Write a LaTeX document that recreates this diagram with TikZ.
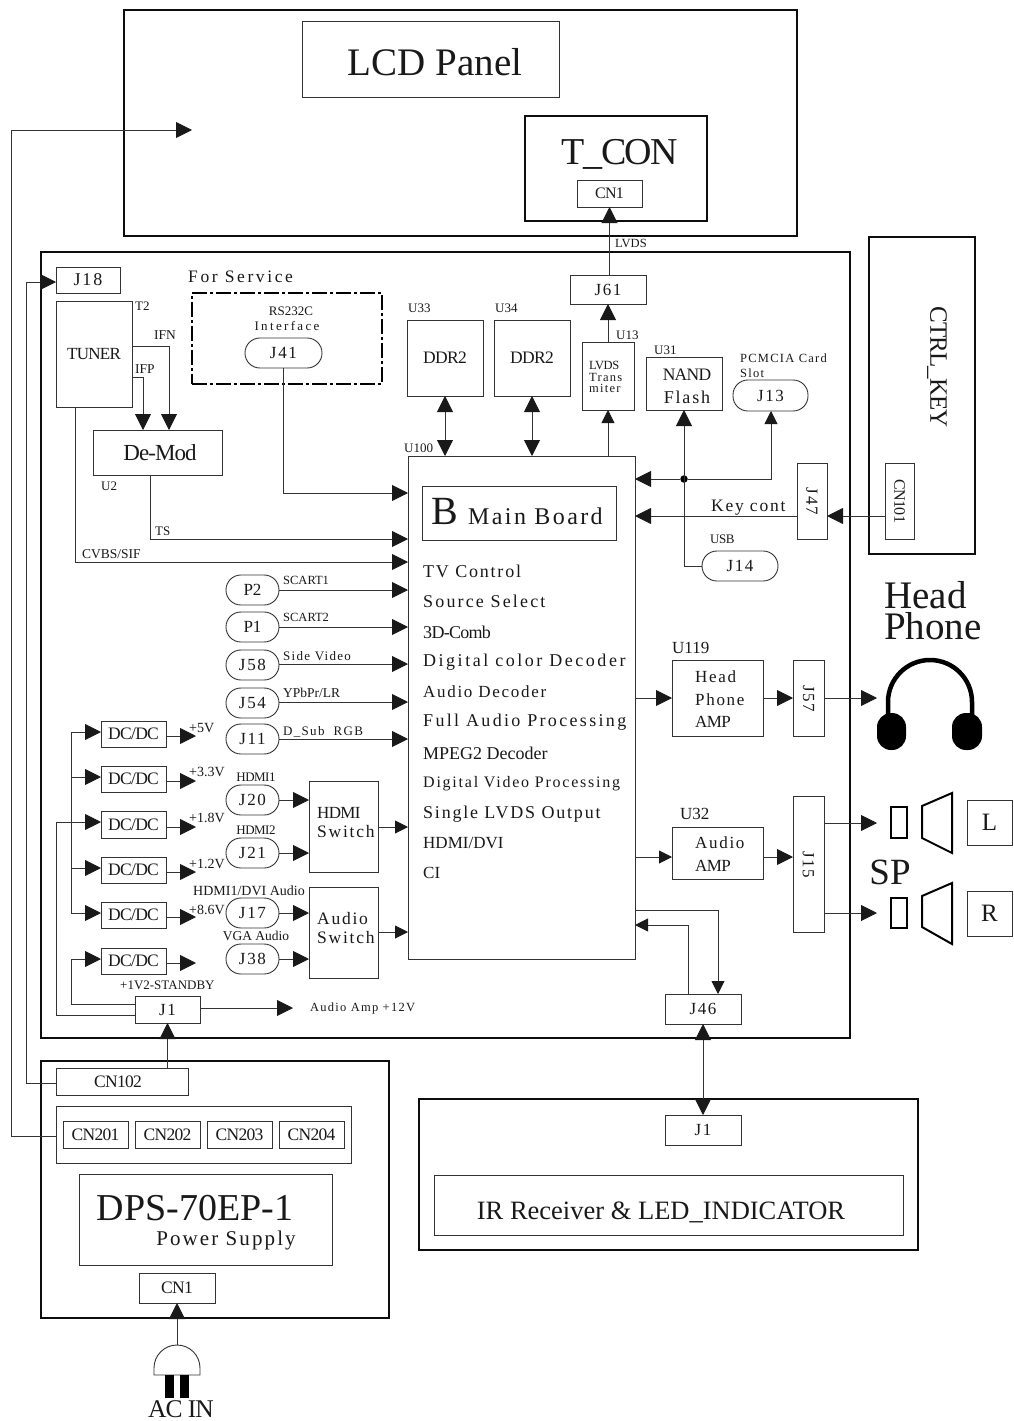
\documentclass[tikz,border=0pt]{standalone}
\usepackage{fontspec}
\setmainfont{Liberation Serif}
\newfontfamily\lsf[LetterSpace=10]{Liberation Serif}
\newfontfamily\tgf[LetterSpace=-4]{Liberation Serif}
\usetikzlibrary{arrows.meta}
\tikzset{
  ln/.style={line width=0.9pt,draw=black!80},
  box/.style={ln,rectangle,inner sep=0pt,outer sep=0pt,align=center,text=black!90},
  heavy/.style={box,line width=2pt,draw=black!95},
  pill/.style={box,rounded corners=14.9pt},
  svc/.style={box,line width=2pt,draw=black,dash pattern=on 15pt off 3pt on 3pt off 3pt},
  ar/.style={ln,-{Triangle[length=16pt,width=16pt,color=black!90]}},
  arr/.style={ln,{Triangle[length=16pt,width=16pt,color=black!90]}-{Triangle[length=16pt,width=16pt,color=black!90]}},
  sar/.style={ln,-{Triangle[length=13pt,width=13pt,color=black!90]}},
  thick shape/.style={line width=2pt,draw=black}
}
\newcommand{\fs}[1]{\fontsize{#1}{#1}\selectfont}
\newcommand{\lsn}[1]{\addfontfeature{LetterSpace=#1}}
\newcommand{\bx}[7]{\node[#6,minimum width={(#4-#2)*1pt},minimum height={(#5-#3)*1pt},anchor=north west] (#1) at (#2,#3) {\raisebox{-1pt}{#7}};}
\newcommand{\tx}[6][west]{\node[anchor=#1,inner sep=0pt,text=black!90] (#2) at (#3,{#4+1}) {\fs{#5}#6};}
\begin{document}
\begin{tikzpicture}[x=1pt,y=-1pt]
\useasboundingbox (0,0) rectangle (1013,1421);
\fill[white] (0,0) rectangle (1013,1421);
% LCD
\bx{lcd}{124}{10}{797}{236}{heavy}{}
\bx{panel}{302}{21}{559}{97}{box}{}
\tx[center]{paneltx}{435}{61}{39}{LCD Panel}
\bx{tcon}{525}{116}{707}{221}{heavy}{}
\tx[center]{tcontx}{620}{153}{38}{\tgf T\_CON}
\bx{cnone}{577}{180}{642}{207}{box}{\tgf\fs{16}CN1}
% main
\bx{main}{41}{252}{850}{1038}{heavy}{}
\bx{jeighteen}{56}{267}{120}{293}{box}{\lsf\fs{18}J18}
\bx{tuner}{56}{301}{132}{407}{box}{\raisebox{-2pt}{\tgf\fs{17}TUNER}}
\tx{ttwo}{135}{305}{13}{T2}
\tx{ifn}{154}{334}{13.5}{IFN}
\tx{ifp}{135}{368}{13.5}{IFP}
\bx{demod}{93}{430}{222}{475}{box}{\hspace*{5pt}\tgf\fs{23}De-Mod}
\tx{utwo}{101}{485}{13}{U2}
\tx{forsvc}{188}{276}{17.5}{\lsf\lsn{15}For Service}
\bx{svcbox}{192}{293}{382}{384}{svc}{}
\tx[center]{rs}{291}{310}{13}{RS232C}
\tx[center]{iface}{287}{325}{13}{\lsf\lsn{18}Interface}
\bx{jfortyone}{245}{338}{322}{368}{pill}{\lsf\fs{17}J41}
\bx{mb}{408}{456}{635}{959}{box}{}
\tx{uhundred}{404}{447}{13}{U100}
\bx{mbin}{422}{486}{616}{540}{box}{}
\tx{bb}{431}{510}{40}{B}
\tx{mbt}{468}{515}{24}{\lsf Main Board}
\tx{ts}{155}{530}{13}{TS}
\tx{cvbs}{82}{553}{13.5}{CVBS/SIF}
\tx{la}{423}{570}{18}{\lsf TV Control}
\tx{lb}{423}{600}{18}{\lsf\lsn{12}Source Select}
\tx{lc}{423}{631}{18}{\tgf 3D-Comb}
\tx{ld}{423}{661}{18}{\lsf\lsn{14}Digital color Decoder}
\tx{le}{423}{691}{17}{\lsf Audio Decoder}
\tx{lf}{423}{721}{18}{\lsf\lsn{13}Full Audio Processing}
\tx{lg}{423}{752}{18}{MPEG2 Decoder}
\tx{lh}{423}{783}{16}{\lsf\lsn{11}Digital Video Processing}
\tx{li}{423}{813}{18}{\lsf Single LVDS Output}
\tx{lj}{423}{842}{17}{HDMI/DVI}
\tx{lk}{423}{872}{17}{CI}
% pills left
\bx{ptwo}{226}{575}{279}{605}{pill}{\fs{17}P2}
\bx{pone}{226}{612}{279}{642}{pill}{\fs{17}P1}
\bx{jfiveeight}{226}{650}{279}{680}{pill}{\lsf\fs{17}J58}
\bx{jfivefour}{226}{688}{279}{718}{pill}{\lsf\fs{17}J54}
\bx{jeleven}{226}{724}{279}{754}{pill}{\lsf\fs{17}J11}
\bx{jtwenty}{226}{785}{279}{815}{pill}{\lsf\fs{17}J20}
\bx{jtwoone}{226}{838}{279}{868}{pill}{\lsf\fs{17}J21}
\bx{jseventeen}{226}{898}{279}{928}{pill}{\lsf\fs{17}J17}
\bx{jthreeeight}{226}{944}{279}{974}{pill}{\lsf\fs{17}J38}
\tx{scone}{283}{579}{12.5}{SCART1}
\tx{sctwo}{283}{616}{12.5}{SCART2}
\tx{side}{283}{655}{13}{\lsf Side Video}
\tx{ypb}{283}{692}{13.5}{YPbPr/LR}
\tx{dsub}{283}{731}{13}{\lsf D\_Sub\ \ RGB}
\tx[center]{hdmia}{256}{776}{13}{\tgf HDMI1}
\tx[center]{hdmib}{256}{829}{13}{\tgf HDMI2}
\tx[center]{hdmic}{249}{890}{14}{HDMI1/DVI Audio}
\tx[center]{vga}{256}{935}{13.5}{VGA Audio}
% DC/DC
\bx{dca}{101}{721}{166}{747}{box}{\tgf\fs{17.5}DC/DC}
\bx{dcb}{101}{766}{166}{792}{box}{\tgf\fs{17.5}DC/DC}
\bx{dcc}{101}{811}{166}{838}{box}{\tgf\fs{17.5}DC/DC}
\bx{dcd}{101}{857}{166}{883}{box}{\tgf\fs{17.5}DC/DC}
\bx{dce}{101}{902}{166}{928}{box}{\tgf\fs{17.5}DC/DC}
\bx{dcf}{101}{948}{166}{974}{box}{\tgf\fs{17.5}DC/DC}
\coordinate (oa) at (196,736);
\coordinate (ob) at (196,781);
\coordinate (oc) at (196,827);
\coordinate (od) at (196,872);
\coordinate (oe) at (196,917);
\coordinate (of) at (196,963);
\tx{va}{189}{727}{14}{+5V}
\tx{vb}{189}{771}{14}{+3.3V}
\tx{vc}{189}{817}{14}{+1.8V}
\tx{vd}{189}{863}{14}{+1.2V}
\tx{ve}{189}{909}{14}{+8.6V}
\tx{vf}{120}{984}{13}{+1V2-STANDBY}
\bx{jone}{135}{996}{200}{1023}{box}{\lsf\fs{17}J1}
\coordinate (aamp) at (293,1008);
\tx{aamptx}{310}{1007}{12.5}{\lsf Audio Amp +12V}
\bx{hsw}{309}{781}{378}{872}{box}{}
\tx{hswa}{317}{812}{17}{\tgf HDMI}
\tx{hswb}{317}{831}{17.5}{\lsf Switch}
\bx{asw}{309}{887}{378}{978}{box}{}
\tx{aswa}{317}{918}{17.5}{\lsf Audio}
\tx{aswb}{317}{937}{17.5}{\lsf Switch}
% top row
\bx{ddra}{407}{320}{483}{396}{box}{\tgf\fs{17.5}DDR2}
\bx{ddrb}{494}{320}{570}{396}{box}{\tgf\fs{17.5}DDR2}
\tx{uthreethree}{408}{307}{13}{U33}
\tx{uthreefour}{495}{307}{13}{U34}
\bx{jsixone}{570}{275}{646}{304}{box}{\lsf\fs{17}J61}
\tx{lvdstx}{615}{242}{12.5}{LVDS}
\bx{lvds}{582}{342}{634}{410}{box}{}
\tx{lvdsa}{589}{364}{12.5}{\tgf LVDS}
\tx{lvdsb}{589}{376}{12.5}{\lsf Trans}
\tx{lvdsc}{589}{387}{12.5}{\lsf miter}
\tx{uthirteen}{616}{334}{13}{U13}
\bx{nand}{646}{357}{722}{410}{box}{}
\tx[center]{nanda}{687}{374}{17.5}{\tgf NAND}
\tx[center]{nandb}{687}{396}{18}{\lsf Flash}
\tx{uthreeone}{654}{349}{13}{U31}
\tx{pca}{740}{357}{12.5}{\lsf PCMCIA Card}
\tx{pcb}{740}{372}{12.5}{\lsf Slot}
\bx{jthirteen}{733}{380}{808}{411}{pill}{\lsf\fs{17}J13}
\bx{jfourteen}{702}{551}{778}{581}{pill}{\lsf\fs{17}J14}
\tx{usb}{710}{538}{13}{\tgf USB}
\bx{jfourseven}{797}{463}{827}{539}{box}{\rotatebox{-90}{\lsf\fs{17}J47}}
\tx{keycont}{711}{507}{17.5}{\lsf Key cont}
\bx{ctrl}{869}{237}{975}{554}{heavy}{}
\tx[center]{ctrltx}{937}{366}{25}{\rotatebox{-90}{\tgf CTRL\_KEY}}
\bx{cnhundred}{885}{463}{914}{539}{box}{\rotatebox{-90}{\tgf\fs{16}CN101}}
\node[circle,fill=black,inner sep=0pt,minimum size=7.5pt] (dot) at (684,479) {};
% right
\bx{hpa}{672}{660}{763}{736}{box}{}
\tx{hpax}{695}{676}{17}{\lsf Head}
\tx{hpbx}{695}{699}{17}{\lsf Phone}
\tx{hpcx}{695}{721}{17}{\tgf AMP}
\tx{uoneonenine}{672}{647}{17}{U119}
\bx{jfiveseven}{793}{660}{824}{736}{box}{\rotatebox{-90}{\lsf\fs{17}J57}}
\bx{aamb}{672}{827}{763}{879}{box}{}
\tx{aambx}{695}{842}{17}{\lsf Audio}
\tx{aamcx}{695}{865}{17}{\tgf AMP}
\tx{uthreetwo}{680}{813}{17}{U32}
\bx{jfifteen}{793}{796}{824}{932}{box}{\rotatebox{-90}{\lsf\fs{17}J15}}
\node[anchor=west,inner sep=0pt,align=left,text=black!90,font=\fontsize{39}{31}\selectfont] (headphone) at (884,611) {Head\\Phone};
\coordinate (hpin) at (877,698);
\coordinate (spl) at (877,823);
\coordinate (spr) at (877,913);
% headphone
\draw[line width=4.5pt,black] (888,717) -- (888,702) arc[start angle=180,end angle=360,radius=42] -- (972,717);
\fill[black,rounded corners=14pt] (877,713) rectangle (906,750);
\fill[black,rounded corners=14pt] (952,713) rectangle (982,750);
% speakers
\draw[thick shape] (891,807) rectangle (907,838);
\draw[thick shape] (922,806) -- (952,793) -- (952,853) -- (922,838) -- cycle;
\draw[thick shape] (891,898) rectangle (907,928);
\draw[thick shape] (922,896) -- (952,883) -- (952,944) -- (922,927) -- cycle;
\bx{lbox}{967}{800}{1012}{845}{box}{\fs{25}L}
\bx{rbox}{967}{891}{1012}{936}{box}{\fs{25}R}
\tx[center]{sptx}{890}{871}{37}{SP}
% bottom
\bx{jfoursix}{665}{994}{741}{1024}{box}{\lsf\fs{17}J46}
\bx{ir}{419}{1099}{918}{1250}{heavy}{}
\bx{irj}{665}{1115}{741}{1145}{box}{\lsf\fs{17}J1}
\bx{irin}{434}{1175}{903}{1235}{box}{}
\tx[center]{irtx}{661}{1211}{26.5}{IR Receiver \& LED\_INDICATOR}
% power
\bx{psu}{41}{1061}{389}{1318}{heavy}{}
\bx{cnoneotwo}{56}{1068}{188}{1095}{box}{\hspace*{-8pt}\tgf\fs{17.5}CN102}
\bx{cngroup}{56}{1106}{351}{1163}{box}{}
\bx{cnta}{63}{1121}{128}{1148}{box}{\tgf\fs{17.5}CN201}
\bx{cntb}{135}{1121}{200}{1148}{box}{\tgf\fs{17.5}CN202}
\bx{cntc}{207}{1121}{272}{1148}{box}{\tgf\fs{17.5}CN203}
\bx{cntd}{279}{1121}{344}{1148}{box}{\tgf\fs{17.5}CN204}
\bx{dps}{79}{1174}{332}{1265}{box}{}
\tx[center]{dpstx}{195}{1207}{38}{DPS-70EP-1}
\tx[center]{dpsb}{226}{1239}{21}{\lsf Power Supply}
\bx{cnac}{139}{1273}{215}{1303}{box}{\tgf\fs{17.5}CN1}
\draw[ln] (154,1375) -- (154,1368) arc[start angle=180,end angle=360,radius=23] -- (200,1375) -- cycle;
\coordinate (plug) at (177,1345);
\fill[black] (165,1375) rectangle (174,1398);
\fill[black] (180,1375) rectangle (189,1398);
\tx[center]{acin}{181}{1408}{25.5}{\tgf AC IN}
% connectors
\draw[ar] (cnoneotwo.west |- 0,1083) -- (26,1083) -- (26,282) -- (jeighteen.west |- 0,282);
\coordinate (lcdin) at (192,130);
\draw[ar] (cngroup.west |- 0,1136) -- (11,1136) -- (11,130) -- (lcdin);
\draw[ar] (jsixone.north -| cnone.south) -- (cnone.south);
\draw[ar] (lvds.north) -- (jsixone.south);
\draw[ar] (tuner.east |- 0,346) -- (169,346) -- (demod.north -| 169,0);
\draw[ar] (tuner.east |- 0,377) -- (143,377) -- (demod.north -| 143,0);
\draw[ar] (jfortyone.south) -- (jfortyone.south |- 0,493) -- (mb.west |- 0,493);
\draw[ar] (demod.south -| 150,0) -- (150,539) -- (mb.west |- 0,539);
\draw[ar] (tuner.south -| 75,0) -- (75,562) -- (mb.west |- 0,562);
\draw[ar] (ptwo.east |- 0,590) -- (mb.west |- 0,590);
\draw[ar] (pone.east |- 0,627) -- (mb.west |- 0,627);
\draw[ar] (jfiveeight.east |- 0,664) -- (mb.west |- 0,664);
\draw[ar] (jfivefour.east |- 0,702) -- (mb.west |- 0,702);
\draw[ar] (jeleven.east |- 0,739) -- (mb.west |- 0,739);
\draw[ar] (jtwenty.east |- 0,800) -- (hsw.west |- 0,800);
\draw[ar] (jtwoone.east |- 0,853) -- (hsw.west |- 0,853);
\draw[ar] (jseventeen.east |- 0,913) -- (asw.west |- 0,913);
\draw[ar] (jthreeeight.east |- 0,959) -- (asw.west |- 0,959);
\draw[sar] (hsw.east |- 0,827) -- (mb.west |- 0,827);
\draw[sar] (asw.east |- 0,932) -- (mb.west |- 0,932);
% DC feed
\draw[ln] (71,732) -- (71,913);
\draw[ar] (71,732) -- (dca.west |- 0,732);
\draw[ar] (71,777) -- (dcb.west |- 0,777);
\draw[ar] (71,868) -- (dcd.west |- 0,868);
\draw[ar] (71,913) -- (dce.west |- 0,913);
\draw[ar] (jone.west |- 0,1004) -- (71,1004) -- (71,959) -- (dcf.west |- 0,959);
\draw[ar] (jone.west |- 0,1015) -- (56,1015) -- (56,822) -- (dcc.west |- 0,822);
\draw[ar] (dca.east |- oa) -- (oa);
\draw[ar] (dcb.east |- ob) -- (ob);
\draw[ar] (dcc.east |- oc) -- (oc);
\draw[ar] (dcd.east |- od) -- (od);
\draw[ar] (dce.east |- oe) -- (oe);
\draw[ar] (dcf.east |- of) -- (of);
\draw[ar] (jone.east |- aamp) -- (aamp);
\draw[ar] (cnoneotwo.north -| jone.south) -- (jone.south);
% top
\draw[arr] (ddra.south -| 445,0) -- (mb.north -| 445,0);
\draw[arr] (ddrb.south -| 532,0) -- (mb.north -| 532,0);
\draw[sar] (mb.north -| lvds.south) -- (lvds.south);
\draw[ar] (dot) -- (mb.east |- dot);
\draw[sar] (dot) -- (771,479) -- (jthirteen.south -| 771,0);
\draw[ar] (jfourteen.west) -- (684,566) -- (nand.south -| 684,0);
\draw[ar] (jfourseven.west |- 0,516) -- (mb.east |- 0,516);
\draw[ar] (cnhundred.west |- 0,516) -- (jfourseven.east |- 0,516);
% right
\draw[ar] (mb.east |- 0,698) -- (hpa.west |- 0,698);
\draw[ar] (hpa.east |- 0,698) -- (jfiveseven.west |- 0,698);
\draw[ar] (jfiveseven.east |- 0,698) -- (hpin);
\draw[sar] (mb.east |- 0,857) -- (aamb.west |- 0,857);
\draw[ar] (aamb.east |- 0,857) -- (jfifteen.west |- 0,857);
\draw[ar] (jfifteen.east |- spl) -- (spl);
\draw[ar] (jfifteen.east |- spr) -- (spr);
\draw[sar] (mb.east |- 0,910) -- (718,910) -- (jfoursix.north -| 718,0);
\draw[sar] (jfoursix.north -| 688,0) -- (688,925) -- (mb.east |- 0,925);
\draw[arr] (jfoursix.south -| 703,0) -- (irj.north -| 703,0);
\draw[ar] (plug) -- (cnac.south -| plug);
\end{tikzpicture}
\end{document}
